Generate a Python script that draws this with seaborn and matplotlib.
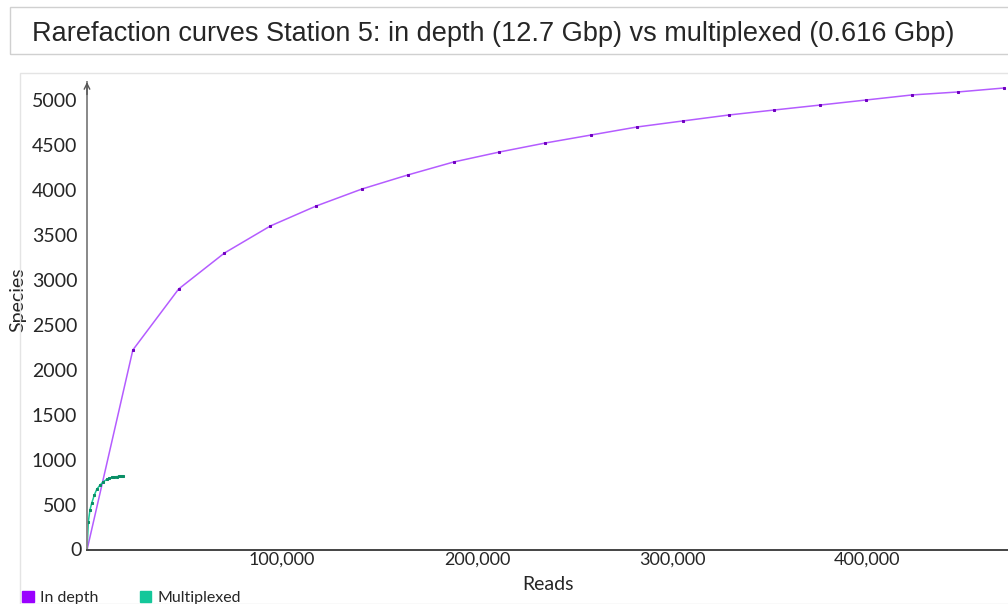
import numpy as np
import pandas as pd
import matplotlib
matplotlib.use("Agg")
import matplotlib.pyplot as plt
import seaborn as sns
from matplotlib.patches import Rectangle
from matplotlib.ticker import FuncFormatter, MultipleLocator

# in depth run (12.7 Gbp)
depth_reads = [0, 23500, 47000, 70500, 94000, 117500, 141000, 164500, 188000, 211500,
               235000, 258500, 282000, 305500, 329000, 352500, 376000, 399500, 423000,
               446500, 470000]
depth_species = [0, 2222, 2900, 3300, 3600, 3822, 4011, 4167, 4311, 4422,
                 4522, 4611, 4700, 4767, 4833, 4889, 4944, 5000, 5056, 5089, 5133]

# multiplexed run (0.616 Gbp)
mplx_reads = [0, 700, 1500, 2400, 3750, 5000, 6700, 8400, 10100, 11400,
              12700, 14000, 15200, 16400, 17500, 18600]
mplx_species = [0, 315, 444, 519, 611, 674, 722, 759, 785, 797,
                807, 812, 815, 818, 820, 822]

title = "Rarefaction curves Station 5: in depth (12.7 Gbp) vs multiplexed (0.616 Gbp)"

depth = pd.DataFrame({"Reads": depth_reads, "Species": depth_species})
mplx = pd.DataFrame({"Reads": mplx_reads, "Species": mplx_species})

sns.set_style("white")
plt.rcParams["font.family"] = ["Lato", "DejaVu Sans"]

fig = plt.figure(figsize=(10.08, 6.04), dpi=100)
ax = fig.add_axes([87/1008, 54/604, 921/1008, 468/604])

sns.lineplot(data=depth, x="Reads", y="Species", ax=ax, color="#b45cff", lw=1.1,
             marker="s", markersize=1.8, mfc="#7000c0", mec="#7000c0", label="In depth")
sns.lineplot(data=mplx, x="Reads", y="Species", ax=ax, color="#19c79a", lw=1.1,
             marker="s", markersize=1.8, mfc="#0a8f66", mec="#0a8f66", label="Multiplexed")

ax.set_xlim(0, 472300)
ax.set_ylim(0, 5200)
ax.xaxis.set_major_locator(MultipleLocator(100000))
ax.xaxis.set_minor_locator(MultipleLocator(25000))
ax.xaxis.set_major_formatter(FuncFormatter(lambda v, p: "" if v == 0 else f"{int(v):,}"))
ax.tick_params(axis="y", direction="in", length=3, color="#999999", labelsize=14, pad=7)
ax.tick_params(axis="x", which="both", direction="in", length=4, color="#999999",
               labelsize=13, pad=1)
ax.text(-0.006, 0, "0", transform=ax.get_yaxis_transform(), ha="right", va="center", fontsize=14)
ax.set_yticks(np.arange(500, 5001, 500))
for s in ["top", "right"]:
    ax.spines[s].set_visible(False)
ax.spines["left"].set_color("#888888")
ax.spines["left"].set_linewidth(1.4)
ax.spines["bottom"].set_color("#444444")
ax.spines["bottom"].set_linewidth(1.4)
ax.annotate("", xy=(0, 5230), xytext=(0, 5030),
            arrowprops=dict(arrowstyle="->", color="#555555", lw=1.0), annotation_clip=False)
ax.set_xlabel("Reads", fontsize=14, labelpad=6)
ax.set_ylabel("Species", fontsize=14)
ax.yaxis.set_label_coords(-0.066, 0.535)

ax.legend_.remove()
handles = [Rectangle((0, 0), 1, 1, color="#9a00ff"), Rectangle((0, 0), 1, 1, color="#14c79a")]
fig.legend(handles, ["In depth", "Multiplexed"], loc="lower left",
           bbox_to_anchor=(0.008, -0.026), ncol=2, frameon=False, fontsize=11.5,
           handlelength=0.7, handleheight=0.7, handletextpad=0.4, columnspacing=2.6)

# panel frames
fig.patches.append(Rectangle((20/1008, 0), 1, 531/604, transform=fig.transFigure,
                             fill=False, ec="#e4e4e4", lw=1))
fig.patches.append(Rectangle((10/1008, 550/604), 1, 47/604, transform=fig.transFigure,
                             fill=False, ec="#d0d0d0", lw=1))
fig.text(32/1008, 570/604, title, fontsize=19.5, va="center", ha="left",
         family=["Liberation Sans", "DejaVu Sans"])

fig.savefig("out.png", dpi=100)
